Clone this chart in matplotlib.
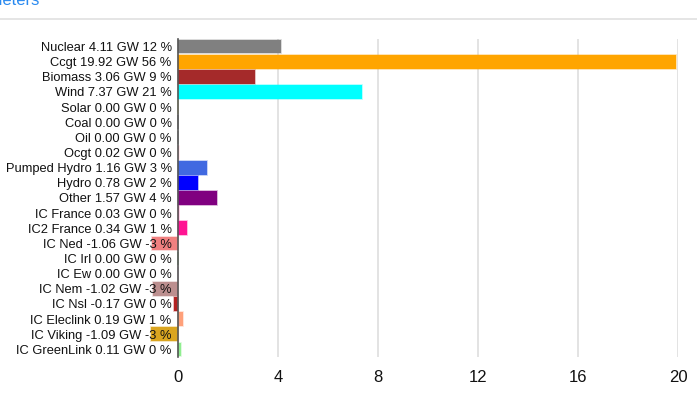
import matplotlib
matplotlib.use("Agg")
import matplotlib.pyplot as plt
from matplotlib.colors import to_rgba

plt.rcParams['font.family'] = ['Liberation Sans', 'DejaVu Sans']

labels = ["Nuclear 4.11 GW 12 %", "Ccgt 19.92 GW 56 %", "Biomass 3.06 GW 9 %",
          "Wind 7.37 GW 21 %", "Solar 0.00 GW 0 %", "Coal 0.00 GW 0 %",
          "Oil 0.00 GW 0 %", "Ocgt 0.02 GW 0 %", "Pumped Hydro 1.16 GW 3 %",
          "Hydro 0.78 GW 2 %", "Other 1.57 GW 4 %", "IC France 0.03 GW 0 %",
          "IC2 France 0.34 GW 1 %", "IC Ned -1.06 GW -3 %", "IC Irl 0.00 GW 0 %",
          "IC Ew 0.00 GW 0 %", "IC Nem -1.02 GW -3 %", "IC Nsl -0.17 GW 0 %",
          "IC Eleclink 0.19 GW 1 %", "IC Viking -1.09 GW -3 %", "IC GreenLink 0.11 GW 0 %"]
values = [4.11, 19.92, 3.06, 7.37, 0.00, 0.00, 0.00, 0.02, 1.16, 0.78, 1.57, 0.03,
          0.34, -1.06, 0.00, 0.00, -1.02, -0.17, 0.19, -1.09, 0.11]
colors = ["#808080", "#FFA500", "#A52A2A", "#00FFFF", "#FFFF00", "#000000",
          "#555555", "#FFC0CB", "#4169E1", "#0000FF", "#800080", "#FF69B4",
          "#FF1493", "#F08080", "#008000", "#DDA0DD", "#BC8F8F", "#B22222",
          "#FFA07A", "#DAA520", "#90EE90"]
xticks = [0, 4, 8, 12, 16, 20]

fig = plt.figure(figsize=(6.97, 3.99), dpi=100)
ax = fig.add_axes([178/697, 1 - 357/399, 500/697, (357 - 39)/399])

ypos = list(range(len(labels)))
edge = [to_rgba(c, 0.35) for c in colors]
bars = ax.barh(ypos, values, height=0.9, color=colors, edgecolor=edge,
               linewidth=1.2, zorder=1)
for b in bars:
    b.set_clip_on(False)

ax.set_ylim(len(labels) - 0.5, -0.5)
ax.set_xlim(0, 20)
ax.set_yticks(ypos)
ax.set_yticklabels(labels, fontsize=9.3, color="#111111")
ax.set_xticks(xticks)
ax.set_xticklabels([str(t) for t in xticks], fontsize=12, color="#111111")
ax.tick_params(axis='y', length=0, pad=4.5)
ax.tick_params(axis='x', length=0, pad=9.5)

for s in ['top', 'right', 'bottom']:
    ax.spines[s].set_visible(False)
ax.spines['left'].set_color("#555555")
ax.spines['left'].set_linewidth(1.2)
ax.spines['left'].set_zorder(3)
for t in xticks[1:]:
    ax.axvline(t, color="#e0e0e0", linewidth=1.3, zorder=0.5)

# header remnants
fig.text(40/697, 1 - 5/399, "Parameters", ha='right', va='baseline',
         fontsize=12, color="#2a8af0")
fig.add_artist(plt.Line2D([0, 1], [1 - 19/399, 1 - 19/399], color="#e0e0e0",
                          linewidth=1.2, transform=fig.transFigure))

fig.savefig("out.png", dpi=100)
